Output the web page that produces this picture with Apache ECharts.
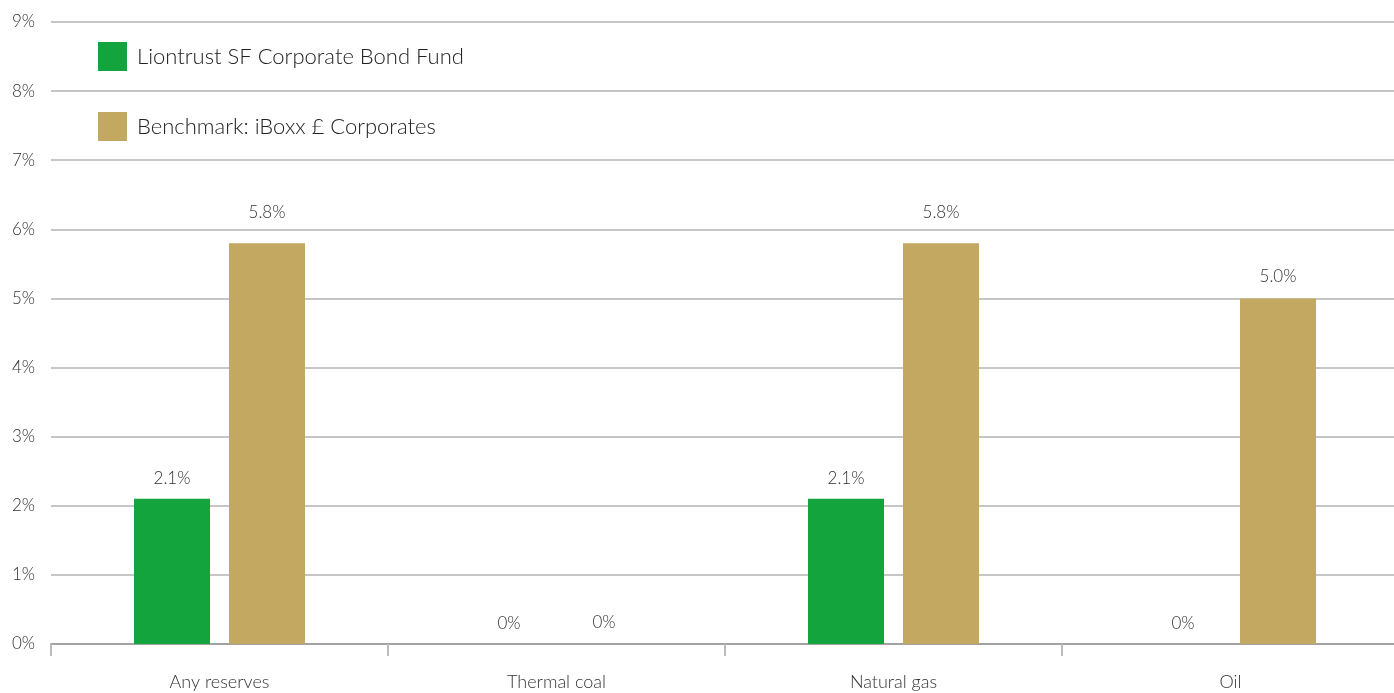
<!DOCTYPE html>
<html><head><meta charset="utf-8">
<script src="https://cdn.jsdelivr.net/npm/echarts@6/dist/echarts.min.js"></script>
<style>html,body{margin:0;padding:0;background:#fff;overflow:hidden}#c{width:1400px;height:693px}</style>
</head><body><div id="c"></div>
<script>
const categories = ['Any reserves', 'Thermal coal', 'Natural gas', 'Oil'];
const fundName = 'Liontrust SF Corporate Bond Fund';
const benchName = 'Benchmark: iBoxx £ Corporates';
const fundValues = [2.1, 0, 2.1, 0];
const benchValues = [5.8, 0, 5.8, 5.0];
const yTicks = { min: 0, max: 9, interval: 1 };

const FONT = 'Lato';
const benchLabelDistance = [22, 13, 22, 13];
const fmtLabel = p => p.value === 0 ? '0%' : p.value.toFixed(1) + '%';
const labelStyle = { show: true, position: 'top', distance: 12, formatter: fmtLabel, color: '#333', fontSize: 17, fontFamily: FONT, fontWeight: 300 };
const chart = echarts.init(document.getElementById('c'), null, { renderer: 'canvas' });
chart.setOption({
  animation: false,
  textStyle: { fontFamily: FONT, fontWeight: 300 },
  grid: { left: 51, right: 1, top: 22, bottom: 49 },
  legend: {
    orient: 'vertical', left: 93, top: 37, itemWidth: 29, itemHeight: 29, itemGap: 41,
    icon: 'rect',
    textStyle: { fontFamily: FONT, fontWeight: 300, fontSize: 22, color: '#222', padding: [0, 0, 0, 5] },
    data: [fundName, benchName]
  },
  xAxis: {
    type: 'category', data: categories,
    axisLine: { lineStyle: { color: '#a3a3a3', width: 2 } },
    axisTick: { show: true, length: 12, lineStyle: { color: '#bbbbbb', width: 2 } },
    axisLabel: { color: '#333', fontSize: 18, fontFamily: FONT, fontWeight: 300, margin: 29 }
  },
  yAxis: {
    type: 'value', min: yTicks.min, max: yTicks.max, interval: yTicks.interval,
    axisLabel: { formatter: '{value}%', color: '#333', fontSize: 17, fontFamily: FONT, fontWeight: 300, margin: 16 },
    axisLine: { show: false }, axisTick: { show: false },
    splitLine: { lineStyle: { color: '#b3b3b3', width: 1.5 } }
  },
  series: [
    { name: fundName, type: 'bar', data: fundValues, barWidth: 76, barGap: '25%',
      itemStyle: { color: '#14a43e' },
      label: labelStyle },
    { name: benchName, type: 'bar', barWidth: 76,
      data: benchValues.map((v, i) => ({ value: v, label: { distance: benchLabelDistance[i] } })),
      itemStyle: { color: '#c2a860' },
      label: labelStyle }
  ]
});
</script></body></html>
